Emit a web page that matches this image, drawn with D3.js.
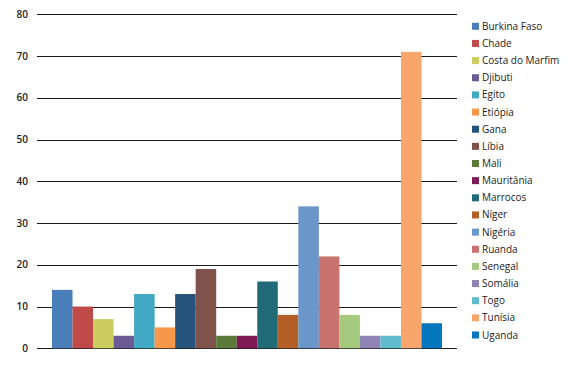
<!DOCTYPE html>
<html lang="pt">
<head>
  <meta charset="UTF-8" />
  <script src="https://d3js.org/d3.v7.min.js"></script>
  <style>
    body { margin: 0; background: #fff; font-family: "Open Sans", sans-serif; }
  </style>
</head>
<body>
  <svg width="571" height="365"></svg>
  <script>
    const countries = ["Burkina Faso", "Chade", "Costa do Marfim", "Djibuti", "Egito", "Etiópia", "Gana", "Líbia", "Mali", "Mauritânia", "Marrocos", "Níger", "Nigéria", "Ruanda", "Senegal", "Somália", "Togo", "Tunísia", "Uganda"];
    const values = [14, 10, 7, 3, 13, 5, 13, 19, 3, 3, 16, 8, 34, 22, 8, 3, 3, 71, 6];
    const colors = ["#4a7ebb", "#be4b48", "#cbcd5f", "#6b5a95", "#41a9c4", "#f6974a", "#26547c", "#7f534b", "#5b7a3a", "#7e1b57", "#216b79", "#b35f26", "#6a96c9", "#c8736f", "#a5c97f", "#9083b6", "#60bbcf", "#f8a66b", "#0277c0"];
    const ticks = [0, 10, 20, 30, 40, 50, 60, 70, 80];

    const svg = d3.select("svg");
    const plotLeft = 37, plotRight = 457, plotTop = 14.3, plotBottom = 348.3;

    const x = d3.scaleBand().domain(countries).range([plotLeft, plotRight]).paddingInner(0).paddingOuter(0.73);
    const y = d3.scaleLinear().domain([0, 80]).range([plotBottom, plotTop]);

    // grid lines
    svg.append("g")
      .selectAll("line")
      .data(ticks)
      .join("line")
      .attr("x1", plotLeft).attr("x2", plotRight)
      .attr("y1", d => Math.round(y(d)) + 0.5).attr("y2", d => Math.round(y(d)) + 0.5)
      .attr("stroke", "#1a1a1a").attr("stroke-width", 1);

    svg.append("g")
      .selectAll("text")
      .data(ticks)
      .join("text")
      .attr("x", 28).attr("y", d => y(d))
      .attr("dy", "0.35em")
      .attr("text-anchor", "end")
      .attr("font-size", 10).attr("font-weight", 600)
      .attr("fill", "#222")
      .text(d => d);

    // bars
    svg.append("g")
      .selectAll("rect")
      .data(countries)
      .join("rect")
      .attr("x", d => x(d))
      .attr("width", x.bandwidth())
      .attr("y", (d, i) => y(values[i]))
      .attr("height", (d, i) => plotBottom - y(values[i]))
      .attr("fill", (d, i) => colors[i]);

    // legend
    const lg = svg.append("g")
      .selectAll("g")
      .data(countries)
      .join("g")
      .attr("transform", (d, i) => `translate(472,${26.3 + i * 17.15})`);
    lg.append("rect")
      .attr("x", 0).attr("y", -3.5).attr("width", 7).attr("height", 7)
      .attr("fill", (d, i) => colors[i]);
    lg.append("text")
      .attr("x", 10).attr("dy", "0.35em")
      .attr("font-size", 10)
      .attr("fill", "#222")
      .text(d => d);
  </script>
</body>
</html>
